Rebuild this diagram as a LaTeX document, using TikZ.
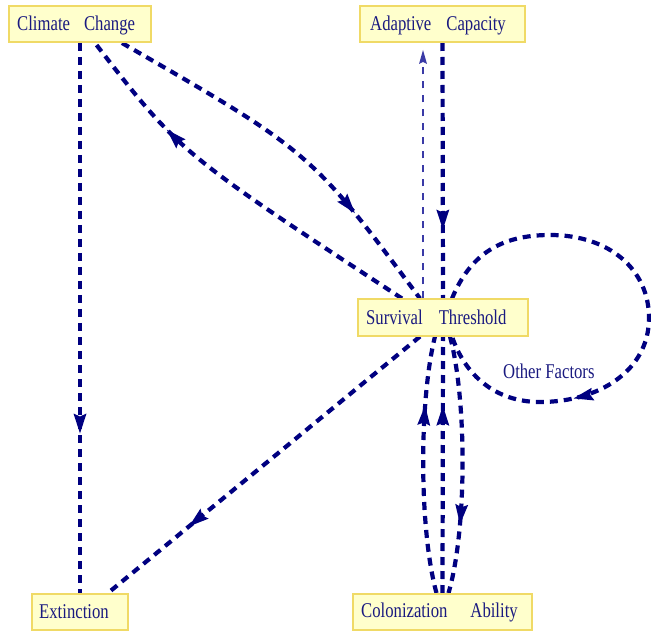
\documentclass[tikz,border=0pt]{standalone}
\usepackage{fontspec}
\newfontfamily\lblfont[FakeStretch=0.795]{Liberation Serif}
\usetikzlibrary{arrows.meta,decorations.markings,backgrounds}
\definecolor{edgec}{HTML}{000080}
\definecolor{thinc}{HTML}{3A3AA6}
\definecolor{textc}{HTML}{1A1A80}
\definecolor{boxfill}{HTML}{FFFFCC}
\definecolor{boxdraw}{HTML}{F0DA66}
\tikzset{
 box/.style={draw=boxdraw, fill=boxfill, line width=2pt, inner sep=0pt, minimum height=36pt},
 lbl/.style={text=textc, font=\lblfont\fontsize{21}{21}\selectfont, inner sep=0pt, anchor=base west},
 dedge/.style={draw=edgec, line width=4.2pt, dash pattern=on 8pt off 6pt},
 midarrow/.style={postaction={decorate}, decoration={markings, mark=at position #1 with {\arrow[edgec]{Stealth[length=20pt,width=13pt,inset=3pt,line width=0pt]}}}},
 midarrow/.default=0.73,
 thinedge/.style={draw=thinc, line width=2pt, dash pattern=on 7pt off 7pt, -{Stealth[length=14pt,width=8pt,inset=2pt,line width=0pt]}},
}
\begin{document}
\begin{tikzpicture}[x=1pt,y=-1pt]
\useasboundingbox (0,0) rectangle (651,631);
% nodes
\node[box, minimum width=142pt] (cc) at (80,24) {};
\node[box, minimum width=165pt] (ac) at (442.5,24) {};
\node[box, minimum width=170pt] (st) at (443,317.5) {};
\node[box, minimum width=96pt] (ext) at (80,612) {};
\node[box, minimum width=179pt] (ca) at (442.5,612) {};
\node[lbl] (cct) at ([xshift=9pt,yshift=-7pt]cc.west) {Climate\hspace{14pt}Change};
\node[lbl] (act) at ([xshift=11pt,yshift=-7pt]ac.west) {Adaptive\hspace{15pt}Capacity};
\node[lbl] (stt) at ([xshift=9pt,yshift=-6.5pt]st.west) {Survival\hspace{16pt}Threshold};
\node[lbl] (extt) at ([xshift=8pt,yshift=-6pt]ext.west) {Extinction};
\node[lbl] (cat) at ([xshift=9pt,yshift=-5.5pt]ca.west) {Colonization\hspace{23pt}Ability};
% connectors
\begin{pgfonlayer}{background}
\draw[dedge, midarrow=0.71] (cc.south) -- (ext.north);
\draw[dedge, midarrow=0.73] ([xshift=42pt]cc.south) .. controls (311,152) .. ([xshift=-23pt]st.north);
\draw[dedge, midarrow=0.72] ([xshift=-41pt]st.north) .. controls (180,153) .. ([xshift=15pt]cc.south);
\draw[dedge, midarrow=0.73] (ac.south) -- (st.north);
\draw[thinedge] ([xshift=-20pt]st.north) -- ([xshift=-19.5pt,yshift=-7pt]ac.south);
\draw[dedge, midarrow=0.74] ([xshift=-23pt]st.south) -- ([xshift=28pt]ext.north);
\draw[dedge, midarrow=0.73] ([xshift=-6pt]ca.north) .. controls (419,530) and (419,400) .. ([xshift=-8pt]st.south);
\draw[dedge, midarrow=0.73] (ca.north) -- (st.south);
\draw[dedge, midarrow=0.73] ([xshift=7pt]st.south) .. controls (467,400) and (467,530) .. ([xshift=6pt]ca.north);
\draw[dedge, midarrow=0.72] ([xshift=9pt]st.north) .. controls (470,255) and (500,235) .. (550,235) .. controls (610,235) and (649,270) .. (649,318) .. controls (649,370) and (600,402) .. (540,402) .. controls (495,402) and (465,375) .. ([xshift=9pt]st.south);
\end{pgfonlayer}
\node[lbl] (of) at (503,378) {Other Factors};
\end{tikzpicture}
\end{document}
